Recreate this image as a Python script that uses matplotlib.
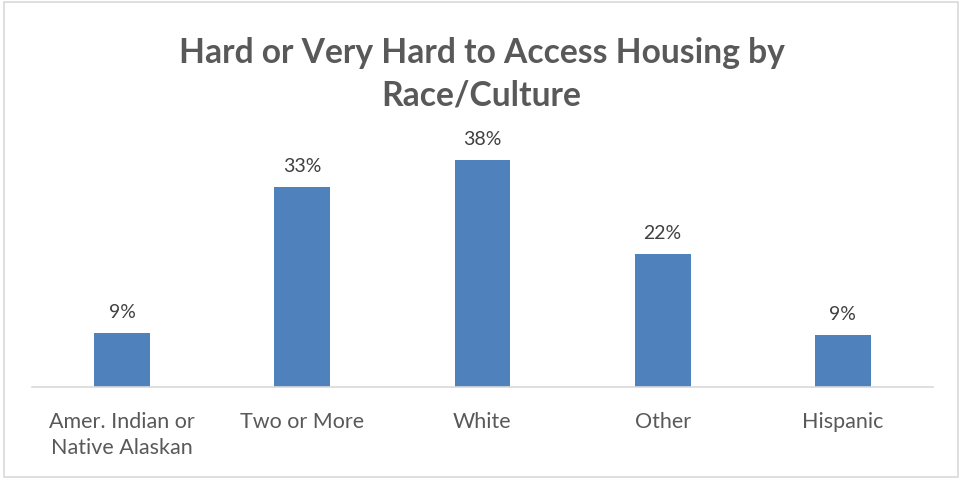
import matplotlib.pyplot as plt
from matplotlib.patches import Rectangle

categories = ["Amer. Indian or\nNative Alaskan", "Two or More", "White", "Other", "Hispanic"]
shares = [9.0, 33.3, 37.8, 22.2, 8.7]  # percent
title = "Hard or Very Hard to Access Housing by\nRace/Culture"

BAR = "#4f81bd"
TEXT = "#595959"

plt.rcParams["font.family"] = ["Lato", "DejaVu Sans"]

fig = plt.figure(figsize=(9.63, 4.81), dpi=100)
ax = fig.add_axes([0.0332, 0.1933, 0.9356, 0.499])

x = range(len(categories))
bars = ax.bar(x, shares, width=0.31, color=BAR)
for b, v in zip(bars, shares):
    ax.text(b.get_x() + b.get_width() / 2, v + 2.2, f"{v:.0f}%",
            ha="center", va="bottom", fontsize=14, color="#404040")

ax.set_xlim(-0.5, 4.5)
ax.set_ylim(0, 40)
ax.set_xticks(list(x))
ax.set_xticklabels(categories, fontsize=15.5, color=TEXT, linespacing=1.4)
ax.tick_params(axis="x", length=0, pad=17)
ax.set_yticks([])
for side in ("top", "right", "left"):
    ax.spines[side].set_visible(False)
ax.spines["bottom"].set_color("#d9d9d9")
ax.spines["bottom"].set_linewidth(1.2)

fig.text(0.5, 0.845, title, ha="center", va="center", fontsize=24.2,
         fontweight="bold", color=TEXT, linespacing=1.4)

# light frame round the whole chart
fig.patches.append(Rectangle((0.004, 0.006), 0.991, 0.988, transform=fig.transFigure,
                             fill=False, edgecolor="#d9d9d9", linewidth=1.2))

fig.savefig("out.png", dpi=100)
